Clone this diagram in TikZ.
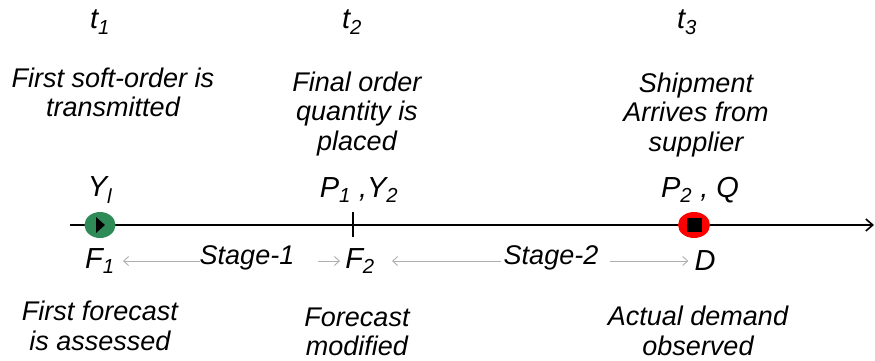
\documentclass[tikz,border=0pt]{standalone}
\usepackage{fontspec}
\setmainfont{Liberation Sans}
\usetikzlibrary{arrows.meta,shapes.geometric}
\definecolor{dotgreen}{RGB}{46,139,87}
\definecolor{arrgray}{RGB}{175,175,175}
\tikzset{
  txt/.style={font=\fontsize{27}{29.5}\selectfont\itshape, align=center, inner sep=0pt},
  sym/.style={font=\fontsize{29}{32}\selectfont\itshape, inner sep=0pt},
  grayarrow/.style={draw=arrgray, line width=0.9pt, -{Straight Barb[length=5pt,width=9pt]}},
  axisline/.style={draw=black, line width=1.6pt, -{Straight Barb[length=7pt,width=12pt]}},
}
\begin{document}
\begin{tikzpicture}[x=1pt,y=-1pt]
\useasboundingbox (0,0) rectangle (875,360);
% time labels
\node[sym] (t1) at (100,22) {t\textsubscript{1}};
\node[sym] (t2) at (352,22) {t\textsubscript{2}};
\node[sym] (t3) at (687,22) {t\textsubscript{3}};
% top descriptions
\node[txt] (d1) at (113,92.5) {First soft-order is\\transmitted};
\node[txt] (d2) at (357,114) {Final order\\quantity is\\placed};
\node[txt] (d3) at (696,115) {Shipment\\Arrives from\\supplier};
% axis
\coordinate (axs) at (70,225);
\coordinate (axe) at (874,225);
\draw[axisline] (axs) -- (axe);
\coordinate (tk1) at (353,212);
\coordinate (tk2) at (353,237);
\draw[line width=1.6pt] (tk1) -- (tk2);
% markers
\node[ellipse, fill=dotgreen, minimum width=31pt, minimum height=26pt, inner sep=0pt] (g) at (100,225) {};
\fill[black] (96,217) -- (105,225) -- (96,233) -- cycle;
\node[ellipse, fill=red, minimum width=32pt, minimum height=26pt, inner sep=0pt] (r) at (694,225) {};
\node[draw=black, fill=black, minimum width=14pt, minimum height=13pt, inner sep=0pt] (sq) at (694,225) {};
% labels above axis
\node[sym] (y1) at (100,190) {Y\textsubscript{l}};
\node[sym] (p1) at (359,190) {P\textsubscript{1} ,Y\textsubscript{2}};
\node[sym] (p2) at (700,190) {P\textsubscript{2} , Q};
% labels below axis
\node[sym] (f1) at (100,261) {F\textsubscript{1}};
\node[sym] (f2) at (360,261) {F\textsubscript{2}};
\node[sym] (dd) at (705,261) {D};
\node[txt] (s1) at (247,258) {Stage-1};
\node[txt] (s2) at (551,258) {Stage-2};
\coordinate (a1) at (318,261);
\coordinate (a2) at (610,261);
\draw[grayarrow] (s1.west |- a1) -- ([xshift=8pt]f1.east |- a1);
\draw[grayarrow] (a1) -- ([xshift=-5pt]f2.west |- a1);
\draw[grayarrow] ([xshift=-3pt]s2.west |- a1) -- (392,261);
\draw[grayarrow] (a2) -- ([xshift=-6pt]dd.west |- a1);
% bottom descriptions
\node[txt] (b1) at (100,326) {First forecast\\is assessed};
\node[txt] (b2) at (357,332) {Forecast\\modified};
\node[txt] (b3) at (698,331) {Actual demand\\observed};
\end{tikzpicture}
\end{document}
